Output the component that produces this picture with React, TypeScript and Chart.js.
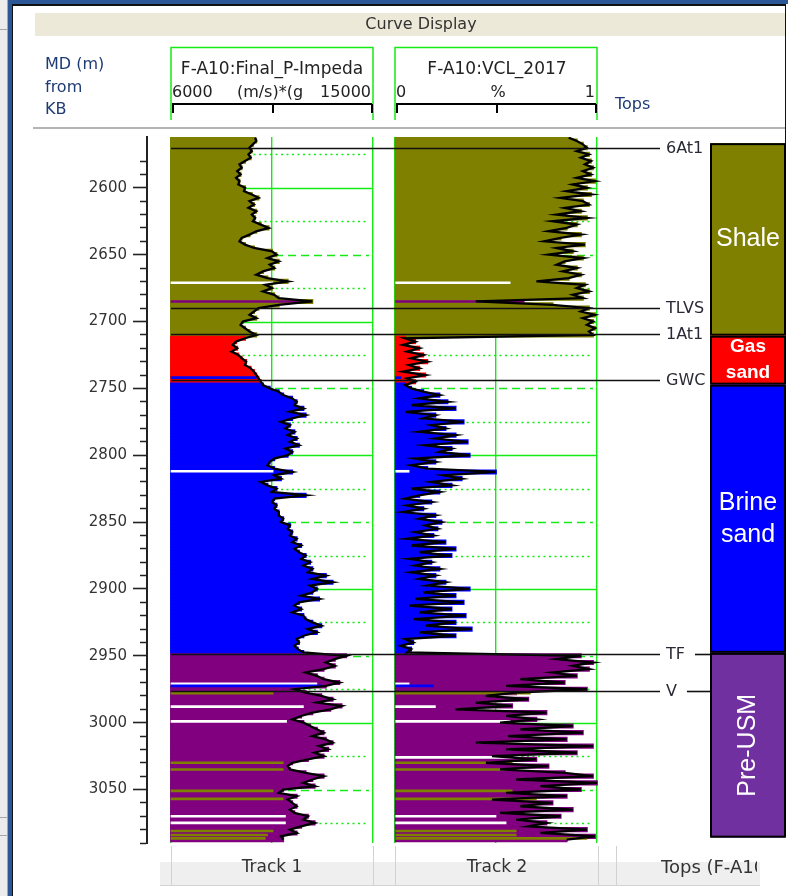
import React, { useEffect, useRef } from 'react';
import { Chart, registerables } from 'chart.js';

Chart.register(...registerables);

// ---------------- Log samples (regular MD sampling) ----------------
const SAMPLE_TOP_MD = 2562.5;
const SAMPLE_STEP_MD = 2.5;

// F-A10:Final_P-Impedance  (m/s)*(g/cc)
const P_IMPEDANCE = [
  9750, 9800, 9650, 9500, 9600, 9450, 9550, 9300, 9050, 9150,
  8950, 9100, 8900, 9050, 9000, 9300, 9250, 9600, 9900, 9500,
  9700, 9450, 9800, 9600, 9750, 9650, 10000, 10350, 9800, 9500,
  9150, 9050, 9300, 9700, 10500, 10700, 10300, 10800, 10400, 10600,
  10100, 9800, 10300, 11200, 10200, 10500, 10100, 10600, 10800, 12300,
  10800, 9900, 9700, 9500, 9800, 9200, 9100, 9300, 9500, 9800,
  9300, 8900, 8750, 8950, 8700, 9000, 9150, 9350, 9300, 9550,
  9700, 9800, 9900, 10000, 10100, 10400, 10800, 11000, 11400, 11600,
  11500, 11900, 11300, 12000, 11400, 10900, 11300, 11100, 11500, 11200,
  11600, 11300, 11700, 11100, 11400, 11200, 10600, 10400, 10300, 10600,
  11400, 10600, 10900, 10000, 10300, 10700, 10500, 12000, 10600, 10500,
  10700, 10600, 10800, 10800, 11000, 10900, 11300, 11200, 11400, 11300,
  11600, 11400, 11800, 11500, 11700, 12000, 11800, 12200, 11900, 12300,
  12100, 12900, 12300, 13200, 12200, 12500, 12300, 11800, 12600, 11700,
  11500, 11800, 11400, 11900, 12000, 12300, 12700, 12100, 12500, 11900,
  11600, 11700, 11500, 11650, 11900, 13800, 13300, 12900, 13300, 12800,
  12000, 12500, 12800, 13500, 12900, 11500, 12000, 12700, 13200, 12500,
  13600, 13100, 12300, 11800, 11400, 11900, 12200, 12500, 12800, 12300,
  12900, 13200, 12600, 13000, 12400, 12800, 12100, 11400, 11200, 11300,
  12000, 12800, 12300, 11900, 12400, 11000, 10800, 11600, 11200, 11400,
  11600, 11300, 11500, 12100, 11900, 12400, 11800, 11300, 11600, 10900,
  11000,
];

// F-A10:VCL_2017  (fraction)
const VCL_2017 = [
  0.86, 0.90, 0.93, 0.95, 0.90, 0.96, 0.92, 0.97, 0.94, 0.98,
  0.93, 0.97, 0.90, 0.99, 0.88, 0.95, 0.85, 0.97, 0.82, 0.93,
  0.96, 0.84, 0.92, 0.80, 0.95, 0.78, 0.90, 0.85, 0.76, 0.92,
  0.82, 0.74, 0.94, 0.80, 0.88, 0.76, 0.93, 0.84, 0.80, 0.90,
  0.83, 0.92, 0.86, 0.70, 0.94, 0.90, 0.96, 0.88, 0.93, 0.40,
  0.78, 0.96, 0.92, 0.99, 0.93, 0.98, 0.95, 0.99, 0.96, 0.98,
  0.05, 0.10, 0.04, 0.12, 0.06, 0.14, 0.08, 0.16, 0.07, 0.12,
  0.04, 0.15, 0.06, 0.10, 0.05, 0.08, 0.14, 0.22, 0.12, 0.26,
  0.08, 0.30, 0.05, 0.20, 0.14, 0.34, 0.18, 0.25, 0.12, 0.30,
  0.20, 0.36, 0.15, 0.28, 0.22, 0.37, 0.10, 0.20, 0.08, 0.16,
  0.50, 0.24, 0.33, 0.18, 0.28, 0.08, 0.22, 0.12, 0.05, 0.18,
  0.06, 0.14, 0.04, 0.20, 0.12, 0.23, 0.15, 0.21, 0.10, 0.19,
  0.06, 0.25, 0.08, 0.30, 0.12, 0.28, 0.07, 0.18, 0.10, 0.22,
  0.08, 0.20, 0.12, 0.25, 0.16, 0.37, 0.14, 0.30, 0.10, 0.34,
  0.07, 0.28, 0.12, 0.35, 0.09, 0.30, 0.15, 0.38, 0.12, 0.30,
  0.05, 0.09, 0.03, 0.08, 0.06, 0.92, 0.80, 0.98, 0.88, 0.96,
  0.78, 0.90, 0.62, 0.84, 0.55, 0.95, 0.60, 0.45, 0.66, 0.40,
  0.58, 0.30, 0.75, 0.55, 0.70, 0.52, 0.88, 0.62, 0.93, 0.56,
  0.85, 0.40, 0.98, 0.55, 0.90, 0.48, 0.70, 0.45, 0.76, 0.52,
  0.84, 0.98, 0.60, 1.00, 0.72, 0.92, 0.55, 0.85, 0.48, 0.78,
  0.62, 0.88, 0.52, 0.82, 0.60, 0.75, 0.66, 0.95, 0.72, 0.99,
  0.85,
];

// ---------------- Facies zones ----------------
const FACIES_NAMES = ['Shale', 'Gas sand', 'Brine sand', 'Pre-USM'];
const FACIES_TOPS = [2566.6, 2710.6, 2747.2, 2947.8];
const FACIES_BASES = [2710.6, 2747.2, 2947.8, 3086];

// thin facies streaks inside the zones (-1 = no facies / white)
const STREAK_DEPTHS = [2671, 2685, 2742, 2812, 2971, 2972.5, 2978, 2988, 2999, 3026, 3030, 3035, 3051, 3057, 3070, 3075, 3081, 3084, 3086.5];
const STREAK_FACIES = [-1, 3, 2, -1, -1, 2, 0, -1, -1, -1, 0, 0, 0, 0, -1, -1, 0, 0, 0];
const STREAK_IMP = [10550, 11750, 9800, 10550, 12500, 12700, 10550, 11900, 11150, null, 11000, 11000, 10550, 11000, 11100, 11100, 10550, 10300, 10200];
const STREAK_VCL = [0.57, 0.64, 0.03, 0.07, 0.07, 0.19, 0.67, 0.20, 0.57, 0.62, 0.58, 0.55, 0.58, 0.70, 0.50, 0.55, 0.60, 0.60, 0.95];

// ---------------- Well tops ----------------
const TOP_NAMES = ['6At1', 'TLVS', '1At1', 'GWC', 'TF', 'V'];
const TOP_DEPTHS = [2570, 2690, 2709.5, 2744, 2948.3, 2976];

// ---------------- Axes ----------------
const DEPTH_MIN = 2562;
const DEPTH_MAX = 3090;
const IMP_RANGE = [6000, 15000];
const VCL_RANGE = [0, 1];

// ---------------- Layout / style ----------------
const W = 788;
const H = 896;
const PLOT = { left: 147, right: 786, top: 137, bottom: 843 };
const TRACK1 = { left: 171, right: 373 };
const TRACK2 = { left: 395, right: 597 };
const COLUMN = { left: 711, right: 785 };
const TOPS_LINE_END = 660;
const TOPS_LABEL_X = 666;
const GREEN = '#14ea14';
const LOG_COLORS = ['#808000', '#ff0000', '#0000ff', '#800080'];
const COLUMN_COLORS = ['#808000', '#ff0000', '#0000ff', '#7030a0'];
const UI_FONT = '"DejaVu Sans", Verdana, sans-serif';
const ARIAL = '"Liberation Sans", Arial, sans-serif';
const NAVY = '#1f3b74';

const DEPTHS = P_IMPEDANCE.map((_, i) => SAMPLE_TOP_MD + i * SAMPLE_STEP_MD);

function faciesAt(d: number) {
  for (let k = 0; k < FACIES_BASES.length; k++) if (d < FACIES_BASES[k]) return k;
  return FACIES_BASES.length - 1;
}
const streakColor = (f: number) => (f < 0 ? '#ffffff' : LOG_COLORS[f]);

function spanFor(track: { left: number; right: number }, range: number[]) {
  const ppu = (track.right - track.left) / (range[1] - range[0]);
  return {
    min: range[0] - (track.left - PLOT.left) / ppu,
    max: range[1] + (PLOT.right - track.right) / ppu,
  };
}

const gridPlugin = {
  id: 'trackGrid',
  beforeDatasetsDraw(chart: any) {
    const { ctx } = chart;
    const y = chart.scales.y;
    ctx.save();
    ctx.strokeStyle = GREEN;
    for (let d = 2575; d <= 3075; d += 25) {
      const py = Math.round(y.getPixelForValue(d)) + 0.5;
      if (d % 100 === 0) { ctx.setLineDash([]); ctx.lineWidth = 1.3; }
      else if (d % 50 === 0) { ctx.setLineDash([8, 5]); ctx.lineWidth = 1.6; }
      else { ctx.setLineDash([2, 3.5]); ctx.lineWidth = 1.6; }
      for (const t of [TRACK1, TRACK2]) {
        ctx.beginPath();
        ctx.moveTo(t.left, py);
        ctx.lineTo(d % 100 === 0 ? t.right : t.right - 4, py);
        ctx.stroke();
      }
    }
    ctx.restore();
  },
};

const FACIES_LABEL_STYLE: any = {
  'Shale': { font: `25px ${ARIAL}`, gap: 0, rotate: false },
  'Gas sand': { font: `bold 19px ${ARIAL}`, gap: 26, rotate: false },
  'Brine sand': { font: `25px ${ARIAL}`, gap: 32, rotate: false },
  'Pre-USM': { font: `25px ${ARIAL}`, gap: 0, rotate: true },
};

const overlayPlugin = {
  id: 'topsAndFacies',
  afterDatasetsDraw(chart: any) {
    const { ctx } = chart;
    const y = chart.scales.y;
    ctx.save();
    // well tops
    ctx.font = `16px ${UI_FONT}`;
    ctx.textBaseline = 'middle';
    ctx.textAlign = 'left';
    TOP_NAMES.forEach((name, i) => {
      const py = Math.round(y.getPixelForValue(TOP_DEPTHS[i])) + 0.5;
      ctx.strokeStyle = '#111';
      ctx.lineWidth = 1.6;
      ctx.beginPath();
      ctx.moveTo(TRACK1.left, py);
      ctx.lineTo(TOPS_LINE_END, py);
      ctx.stroke();
      ctx.fillStyle = '#2a2a36';
      ctx.fillText(name, TOPS_LABEL_X, py + 0.5);
      const end = TOPS_LABEL_X + ctx.measureText(name).width + 10;
      if (end < COLUMN.left - 4) {
        ctx.beginPath();
        ctx.moveTo(end, py);
        ctx.lineTo(COLUMN.left, py);
        ctx.stroke();
      }
    });
    // facies column
    FACIES_NAMES.forEach((name, k) => {
      const y0 = y.getPixelForValue(FACIES_TOPS[k]);
      const y1 = y.getPixelForValue(FACIES_BASES[k]);
      ctx.fillStyle = COLUMN_COLORS[k];
      ctx.fillRect(COLUMN.left, y0, COLUMN.right - COLUMN.left, y1 - y0);
      ctx.strokeStyle = '#000';
      ctx.lineWidth = 2;
      ctx.strokeRect(COLUMN.left, y0 + 1, COLUMN.right - COLUMN.left, y1 - y0 - 2);
      const st = FACIES_LABEL_STYLE[name];
      const cx = (COLUMN.left + COLUMN.right) / 2;
      const cy = (y0 + y1) / 2;
      ctx.fillStyle = '#ffffff';
      ctx.font = st.font;
      ctx.textAlign = 'center';
      ctx.textBaseline = 'middle';
      if (st.rotate) {
        ctx.save();
        ctx.translate(cx, cy);
        ctx.rotate(-Math.PI / 2);
        ctx.fillText(name, 0, 0);
        ctx.restore();
      } else {
        const lines = st.gap ? name.split(' ') : [name];
        lines.forEach((ln: string, j: number) => {
          ctx.fillText(ln, cx, cy + (j - (lines.length - 1) / 2) * st.gap);
        });
      }
    });
    ctx.restore();
  },
};

const chromePlugin = {
  id: 'chrome',
  beforeDraw(chart: any) {
    const { ctx } = chart;
    ctx.save();
    ctx.fillStyle = '#ffffff';
    ctx.fillRect(0, 0, W, H);
    // left panel and window frame
    ctx.fillStyle = '#ececec';
    ctx.fillRect(0, 0, 8, H);
    ctx.fillStyle = '#a8a8a8';
    ctx.fillRect(7, 0, 1, H);
    ctx.fillRect(0, 29, 7, 1);
    ctx.fillRect(0, 817, 7, 1);
    ctx.fillRect(0, 835, 7, 1);
    ctx.fillStyle = '#2b5797';
    ctx.fillRect(8, 0, 4, H);
    ctx.fillRect(8, 0, W - 8, 4);
    ctx.fillStyle = '#111111';
    ctx.fillRect(12, 4, 1, H - 4);
    ctx.fillRect(12, 4, 774, 2);
    ctx.fillRect(785, 4, 1, 140);
    // Curve Display bar
    ctx.fillStyle = '#ece9d8';
    ctx.fillRect(35, 13, 750, 23);
    // header separator
    ctx.fillStyle = '#b4b4b4';
    ctx.fillRect(33, 127, 752, 2);
    // track header boxes
    ctx.strokeStyle = GREEN;
    ctx.lineWidth = 1.5;
    for (const t of [TRACK1, TRACK2]) {
      ctx.beginPath();
      ctx.moveTo(t.left, 120);
      ctx.lineTo(t.left, 47.5);
      ctx.lineTo(t.right, 47.5);
      ctx.lineTo(t.right, 120);
      ctx.stroke();
      // scale bar
      ctx.save();
      ctx.strokeStyle = '#000';
      ctx.lineWidth = 2;
      const mid = (t.left + t.right) / 2;
      ctx.beginPath();
      ctx.moveTo(t.left + 1, 104);
      ctx.lineTo(t.right - 1, 104);
      for (const x of [t.left + 2, mid + 1, t.right - 1]) {
        ctx.moveTo(x, 104);
        ctx.lineTo(x, 113);
      }
      ctx.stroke();
      ctx.restore();
    }
    // footer
    ctx.fillStyle = '#efefef';
    ctx.fillRect(160, 862, 600, 23);
    ctx.fillStyle = '#d2d2d2';
    ctx.fillRect(160, 885, 600, 1);
    for (const x of [171, 373, 395, 598, 616]) ctx.fillRect(x, 846, 1, 39);
    ctx.restore();
  },
  afterDraw(chart: any) {
    const { ctx } = chart;
    ctx.save();
    ctx.textBaseline = 'middle';
    // title bar
    ctx.fillStyle = '#333';
    ctx.font = `16px ${UI_FONT}`;
    ctx.textAlign = 'center';
    ctx.fillText('Curve Display', 421, 25);
    // depth header
    ctx.fillStyle = NAVY;
    ctx.textAlign = 'left';
    ctx.fillText('MD (m)', 45, 65);
    ctx.fillText('from', 45, 88);
    ctx.fillText('KB', 45, 110);
    ctx.fillText('Tops', 615, 105);
    // track headers
    ctx.fillStyle = '#222';
    ctx.font = `17px ${UI_FONT}`;
    ctx.textAlign = 'center';
    ctx.fillText('F-A10:Final_P-Impeda', (TRACK1.left + TRACK1.right) / 2, 70);
    ctx.fillText('F-A10:VCL_2017', (TRACK2.left + TRACK2.right) / 2 + 1, 70);
    ctx.font = `16px ${UI_FONT}`;
    ctx.textAlign = 'left';
    ctx.fillText(String(IMP_RANGE[0]), TRACK1.left + 1, 93);
    ctx.fillText(String(VCL_RANGE[0]), TRACK2.left + 1, 93);
    ctx.textAlign = 'right';
    ctx.fillText(String(IMP_RANGE[1]), TRACK1.right - 2, 93);
    ctx.fillText(String(VCL_RANGE[1]), TRACK2.right - 2, 93);
    ctx.textAlign = 'center';
    ctx.fillText('(m/s)*(g', 270, 93);
    ctx.fillText('%', 498, 93);
    // footer
    ctx.fillStyle = '#333';
    ctx.font = `17px ${UI_FONT}`;
    ctx.fillText('Track 1', (TRACK1.left + TRACK1.right) / 2, 868);
    ctx.fillText('Track 2', (TRACK2.left + TRACK2.right) / 2 + 1, 868);
    ctx.save();
    ctx.beginPath();
    ctx.rect(617, 846, 140, 40);
    ctx.clip();
    ctx.textAlign = 'left';
    ctx.font = `18px ${UI_FONT}`;
    ctx.fillText('Tops (F-A10)', 661, 868);
    ctx.restore();
    ctx.restore();
  },
};

export default function App() {
  const ref = useRef<HTMLCanvasElement>(null);

  useEffect(() => {
    const canvas = ref.current;
    if (!canvas) return;
    Chart.defaults.font.family = UI_FONT;

    const sampleColors = DEPTHS.map((d) => LOG_COLORS[faciesAt(d)]);
    const s1 = STREAK_DEPTHS.map((d, i) => ({ d, v: STREAK_IMP[i], c: streakColor(STREAK_FACIES[i]) })).filter((s) => s.v != null);
    const s2 = STREAK_DEPTHS.map((d, i) => ({ d, v: STREAK_VCL[i], c: streakColor(STREAK_FACIES[i]) })).filter((s) => s.v != null);
    const impSpan = spanFor(TRACK1, IMP_RANGE);
    const vclSpan = spanFor(TRACK2, VCL_RANGE);

    const fillCommon = { borderWidth: 0, barPercentage: 1, categoryPercentage: 1, grouped: false, inflateAmount: 0.9 };

    const chart = new Chart(canvas, {
      type: 'bar',
      data: {
        datasets: [
          {
            type: 'bar', label: 'P-Impedance facies fill', xAxisID: 'xImp', yAxisID: 'y', order: 3,
            data: DEPTHS.map((d, i) => ({ x: [IMP_RANGE[0], P_IMPEDANCE[i]], y: d })),
            backgroundColor: sampleColors, ...fillCommon,
          },
          {
            type: 'bar', label: 'VCL facies fill', xAxisID: 'xVcl', yAxisID: 'y', order: 3,
            data: DEPTHS.map((d, i) => ({ x: [VCL_RANGE[0], VCL_2017[i]], y: d })),
            backgroundColor: sampleColors, ...fillCommon,
          },
          {
            type: 'bar', label: 'P-Impedance streaks', xAxisID: 'xImp', yAxisID: 'yStreak', order: 2,
            data: s1.map((s) => ({ x: [IMP_RANGE[0], s.v], y: s.d })),
            backgroundColor: s1.map((s) => s.c), borderWidth: 0, barThickness: 2, grouped: false,
          },
          {
            type: 'bar', label: 'VCL streaks', xAxisID: 'xVcl', yAxisID: 'yStreak', order: 2,
            data: s2.map((s) => ({ x: [VCL_RANGE[0], s.v], y: s.d })),
            backgroundColor: s2.map((s) => s.c), borderWidth: 0, barThickness: 2, grouped: false,
          },
          {
            type: 'line', label: 'F-A10:Final_P-Impedance', xAxisID: 'xImp', yAxisID: 'y', order: 1, indexAxis: 'y',
            data: DEPTHS.map((d, i) => ({ x: P_IMPEDANCE[i], y: d })),
            borderColor: '#000', borderWidth: 2.3, pointRadius: 0, fill: false, tension: 0,
          },
          {
            type: 'line', label: 'F-A10:VCL_2017', xAxisID: 'xVcl', yAxisID: 'y', order: 1, indexAxis: 'y',
            data: DEPTHS.map((d, i) => ({ x: VCL_2017[i], y: d })),
            borderColor: '#000', borderWidth: 2.3, pointRadius: 0, fill: false, tension: 0,
          },
        ] as any,
      },
      options: {
        indexAxis: 'y',
        animation: false,
        responsive: false,
        maintainAspectRatio: false,
        events: [],
        layout: { padding: { left: 0, right: W - PLOT.right, top: PLOT.top, bottom: H - PLOT.bottom } },
        plugins: { legend: { display: false }, tooltip: { enabled: false } },
        scales: {
          y: {
            type: 'linear', position: 'left', reverse: true, min: DEPTH_MIN, max: DEPTH_MAX, offset: false,
            afterFit: (s: any) => { s.width = PLOT.left; },
            afterBuildTicks: (s: any) => { s.ticks = s.ticks.filter((t: any) => t.value % 10 === 0); },
            ticks: {
              stepSize: 10, autoSkip: false, padding: 6, color: '#333',
              font: { family: UI_FONT, size: 15 },
              callback: (v: any) => (Number(v) % 50 === 0 ? String(v) : ''),
            },
            grid: {
              offset: false, drawOnChartArea: false, tickLength: 14, tickColor: '#222', tickWidth: 1.6,
              tickBorderDash: (c: any) => (c.tick && c.tick.value % 50 === 0 ? [] : [0, 7, 8, 4]),
            },
            border: { display: true, color: '#222', width: 2 },
          },
          yStreak: { type: 'linear', display: false, reverse: true, min: DEPTH_MIN, max: DEPTH_MAX, offset: false, grid: { offset: false } },
          xImp: {
            type: 'linear', position: 'bottom', min: impSpan.min, max: impSpan.max, offset: false,
            afterBuildTicks: (s: any) => {
              s.ticks = [IMP_RANGE[0], (IMP_RANGE[0] + IMP_RANGE[1]) / 2, IMP_RANGE[1]].map((v) => ({ value: v }));
            },
            ticks: { display: false },
            grid: { color: GREEN, lineWidth: 1.4, drawTicks: false, offset: false },
            border: { display: false },
          },
          xVcl: {
            type: 'linear', position: 'bottom', min: vclSpan.min, max: vclSpan.max, offset: false,
            afterBuildTicks: (s: any) => {
              s.ticks = [VCL_RANGE[0], (VCL_RANGE[0] + VCL_RANGE[1]) / 2, VCL_RANGE[1]].map((v) => ({ value: v }));
            },
            ticks: { display: false },
            grid: { color: GREEN, lineWidth: 1.4, drawTicks: false, offset: false },
            border: { display: false },
          },
        },
      } as any,
      plugins: [chromePlugin, gridPlugin, overlayPlugin],
    });
    return () => chart.destroy();
  }, []);

  return (
    <div style={{ position: 'absolute', left: 0, top: 0, width: W, height: H, background: '#fff' }}>
      <canvas ref={ref} width={W} height={H} style={{ display: 'block', width: W, height: H }} />
    </div>
  );
}
